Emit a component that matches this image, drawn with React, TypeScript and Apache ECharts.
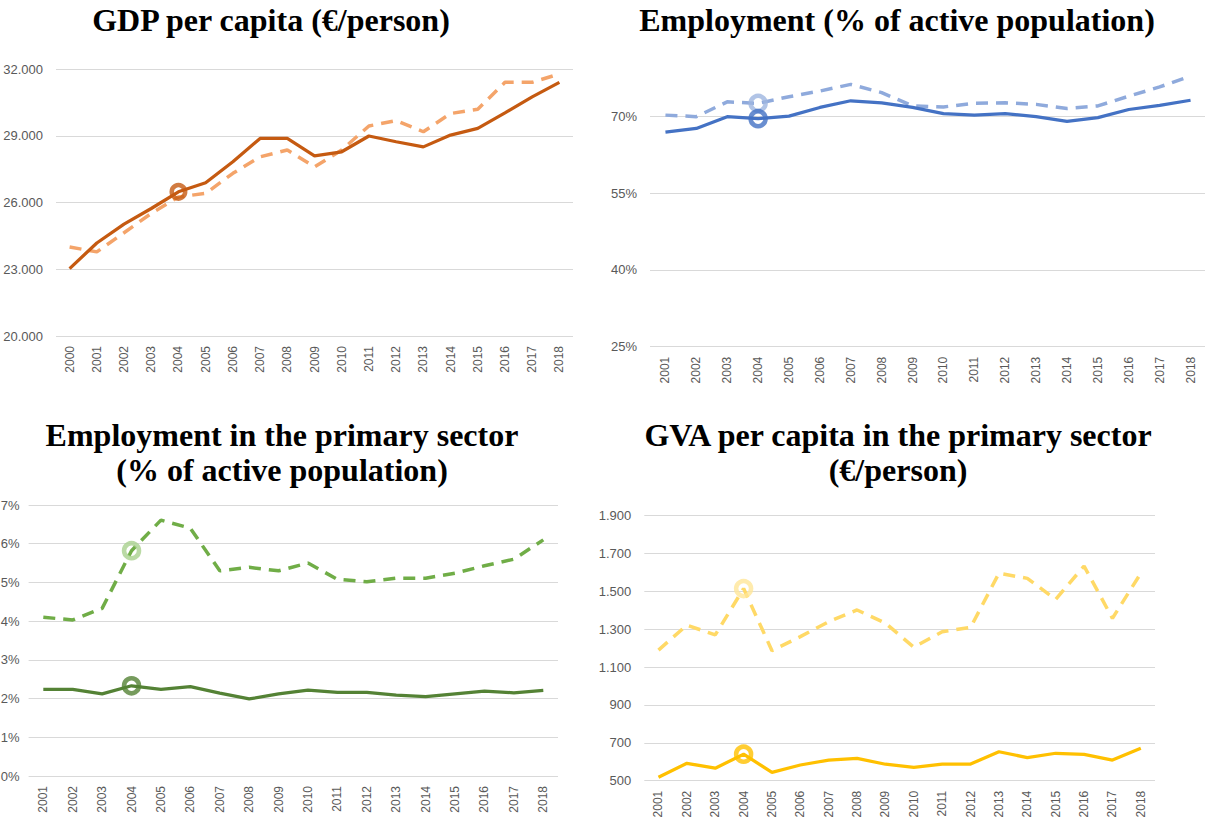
import React, { useEffect, useRef } from "react";
import * as echarts from "echarts";

// ---- Data ----
const yearsGdp = ["2000","2001","2002","2003","2004","2005","2006","2007","2008","2009","2010","2011","2012","2013","2014","2015","2016","2017","2018"];
const years = ["2001","2002","2003","2004","2005","2006","2007","2008","2009","2010","2011","2012","2013","2014","2015","2016","2017","2018"];
const highlightYear = "2004";

const gdpSolid = [23030, 24180, 25030, 25730, 26480, 26890, 27830, 28880, 28880, 28100, 28280, 28990, 28730, 28500, 29030, 29330, 30030, 30750, 31400];
const gdpDashed = [24000, 23780, 24640, 25510, 26250, 26410, 27310, 28050, 28360, 27600, 28360, 29440, 29680, 29180, 30000, 30190, 31400, 31400, 31780];

const empSolid = [66.9, 67.6, 69.9, 69.5, 70.0, 71.7, 73.0, 72.6, 71.7, 70.5, 70.2, 70.5, 69.9, 69.0, 69.7, 71.3, 72.1, 73.1];
const empDashed = [70.2, 69.9, 72.8, 72.5, 73.8, 74.9, 76.2, 74.6, 72.0, 71.8, 72.5, 72.6, 72.3, 71.5, 72.0, 73.9, 75.7, 77.8];

const primEmpSolid = [2.24, 2.24, 2.12, 2.33, 2.24, 2.31, 2.14, 1.99, 2.12, 2.22, 2.16, 2.16, 2.09, 2.05, 2.12, 2.19, 2.15, 2.21];
const primEmpDashed = [4.10, 4.03, 4.33, 5.82, 6.61, 6.40, 5.30, 5.39, 5.30, 5.50, 5.08, 5.02, 5.11, 5.11, 5.24, 5.43, 5.60, 6.10];

const gvaSolid = [518, 592, 566, 640, 544, 583, 609, 618, 587, 571, 588, 588, 653, 622, 645, 639, 609, 671];
const gvaDashed = [1190, 1322, 1270, 1515, 1187, 1261, 1340, 1402, 1332, 1205, 1287, 1310, 1596, 1569, 1458, 1634, 1358, 1596];

const titles = [
  "GDP per capita (€/person)",
  "Employment (% of active population)",
  "Employment in the primary sector\n(% of active population)",
  "GVA per capita in the primary sector\n(€/person)",
];

// ---- Helpers ----
const thousands = (v: number) => {
  if (v >= 1000) {
    const t = Math.floor(v / 1000);
    const r = String(Math.round(v % 1000)).padStart(3, "0");
    return t + "." + r;
  }
  return String(v);
};
const pct = (v: number) => v + "%";

const GRID_COLOR = "#d9d9d9";
const LABEL_COLOR = "#595959";
const LABEL_FONT = "Liberation Sans";

export default function App() {
  const ref = useRef<HTMLDivElement>(null);

  useEffect(() => {
    if (!ref.current) return;
    const chart = echarts.init(ref.current, undefined, { renderer: "svg" });

    const grids = [
      { left: 56, top: 69, width: 517, height: 267 },
      { left: 650, top: 39.3, width: 556, height: 307.4 },
      { left: 28.6, top: 505, width: 529.4, height: 271 },
      { left: 644.3, top: 515.7, width: 510.7, height: 265 },
    ].map((g) => ({ ...g, containLabel: false, outerBoundsMode: "none" }));

    const yAxisDefs = [
      { min: 20000, max: 32000, interval: 3000, fmt: thousands, hideTop: false, margin: 13 },
      { min: 25, max: 85, interval: 15, fmt: pct, hideTop: true, margin: 13 },
      { min: 0, max: 7, interval: 1, fmt: pct, hideTop: false, margin: 9 },
      { min: 500, max: 1900, interval: 200, fmt: thousands, hideTop: false, margin: 13 },
    ];

    const xCats = [yearsGdp, years, years, years];

    const xAxis = xCats.map((cats, i) => ({
      type: "category",
      gridIndex: i,
      data: cats,
      boundaryGap: true,
      axisLine: { show: false },
      axisTick: { show: false },
      axisLabel: {
        rotate: 90,
        color: LABEL_COLOR,
        fontFamily: LABEL_FONT,
        fontSize: 12,
        margin: 10,
        interval: 0,
      },
    }));

    const yAxis = yAxisDefs.map((d, i) => {
      const nLines = Math.round((d.max - d.min) / d.interval) + 1;
      const colors = Array.from({ length: nLines }, (_, k) =>
        d.hideTop && k === nLines - 1 ? "rgba(0,0,0,0)" : GRID_COLOR
      );
      return {
        type: "value",
        gridIndex: i,
        min: d.min,
        max: d.max,
        interval: d.interval,
        axisLine: { show: false },
        axisTick: { show: false },
        splitLine: { show: true, lineStyle: { color: colors, width: 1 } },
        axisLabel: {
          color: LABEL_COLOR,
          fontFamily: LABEL_FONT,
          fontSize: 13,
          margin: d.margin,
          showMaxLabel: !d.hideTop,
          formatter: (v: number) => d.fmt(v),
        },
      };
    });

    const panels = [
      { cats: yearsGdp, solid: gdpSolid, dashed: gdpDashed, solidColor: "#C55A11", dashedColor: "#F4A46A", solidMark: "#C55A11", dashedMark: null as string | null, markSize: 13.5 },
      { cats: years, solid: empSolid, dashed: empDashed, solidColor: "#4472C4", dashedColor: "#8FAADC", solidMark: "#4472C4", dashedMark: "#9DB5E0", markSize: 15 },
      { cats: years, solid: primEmpSolid, dashed: primEmpDashed, solidColor: "#548235", dashedColor: "#70AD47", solidMark: "#548235", dashedMark: "#A9D18E", markSize: 15 },
      { cats: years, solid: gvaSolid, dashed: gvaDashed, solidColor: "#FFC000", dashedColor: "#FFD966", solidMark: "#FFC000", dashedMark: "#FFE699", markSize: 15 },
    ];

    const series: any[] = [];
    panels.forEach((p, i) => {
      const hi = p.cats.indexOf(highlightYear);
      series.push({
        type: "line",
        xAxisIndex: i,
        yAxisIndex: i,
        data: p.dashed,
        showSymbol: false,
        symbol: "none",
        z: 2,
        lineStyle: { color: p.dashedColor, width: 3.5, type: [12, 8] },
      });
      series.push({
        type: "line",
        xAxisIndex: i,
        yAxisIndex: i,
        data: p.solid,
        showSymbol: false,
        symbol: "none",
        z: 3,
        lineStyle: { color: p.solidColor, width: 3.25 },
      });
      if (p.dashedMark) {
        series.push({
          type: "scatter",
          xAxisIndex: i,
          yAxisIndex: i,
          data: [[p.cats[hi], p.dashed[hi]]],
          symbol: "circle",
          symbolSize: p.markSize,
          z: 4,
          itemStyle: { color: "rgba(0,0,0,0)", borderColor: p.dashedMark, borderWidth: 4.5 },
        });
      }
      series.push({
        type: "scatter",
        xAxisIndex: i,
        yAxisIndex: i,
        data: [[p.cats[hi], p.solid[hi]]],
        symbol: "circle",
        symbolSize: p.markSize,
        z: 5,
        itemStyle: { color: "rgba(0,0,0,0)", borderColor: p.solidMark, borderWidth: 4.5 },
      });
    });

    const titlePos = [
      { x: 271, y: 20 },
      { x: 897, y: 20 },
      { x: 282, y: 452 },
      { x: 898, y: 452 },
    ];

    const graphic = titles.map((t, i) => ({
      type: "text",
      x: titlePos[i].x,
      y: titlePos[i].y,
      style: {
        text: t,
        fill: "#000",
        fontFamily: "Liberation Serif",
        fontWeight: "bold",
        fontSize: 32,
        lineHeight: 35,
        align: "center",
        verticalAlign: "middle",
      },
    }));

    chart.setOption({
      animation: false,
      backgroundColor: "#ffffff",
      grid: grids,
      xAxis,
      yAxis,
      series,
      graphic,
    });

    return () => chart.dispose();
  }, []);

  return (
    <div
      ref={ref}
      style={{ position: "fixed", left: 0, top: 0, width: 1205, height: 818, background: "#fff" }}
    />
  );
}
